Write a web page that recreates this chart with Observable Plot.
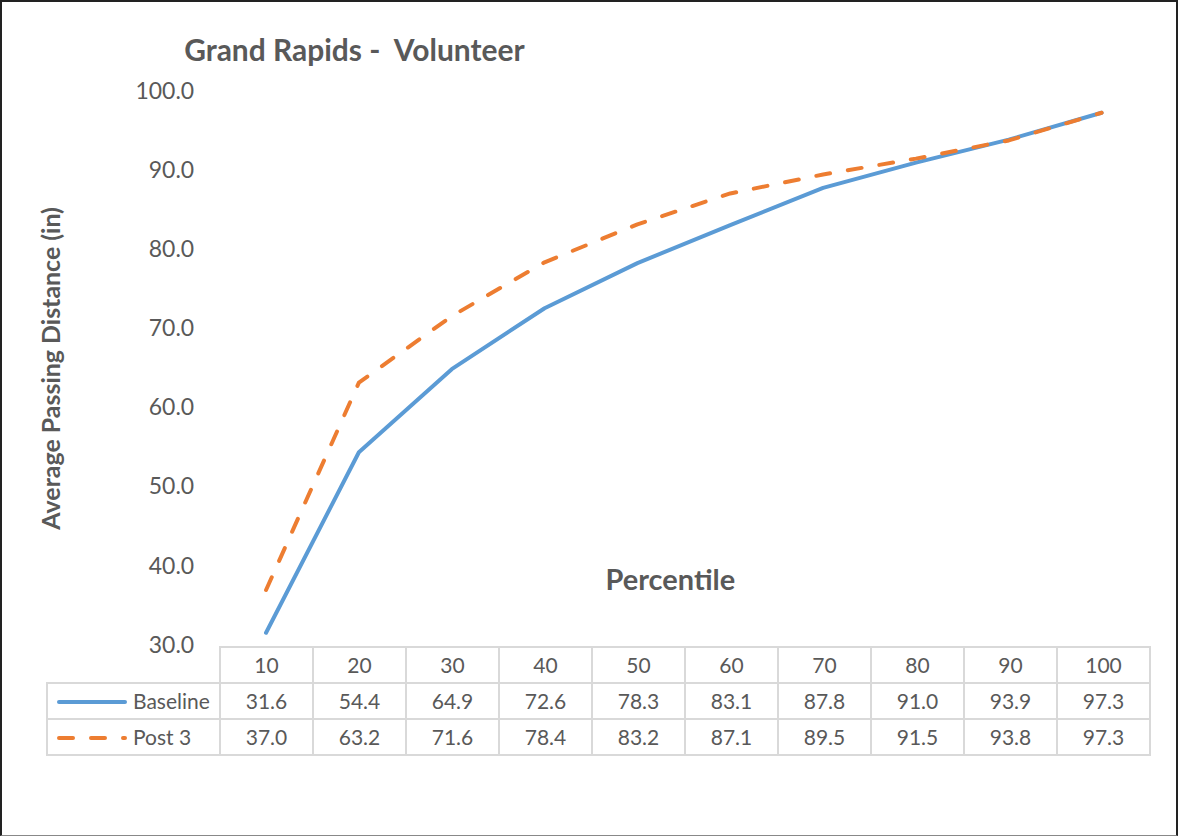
<!DOCTYPE html>
<html><head><meta charset="utf-8">
<script src="https://cdn.jsdelivr.net/npm/d3@7"></script>
<script src="https://cdn.jsdelivr.net/npm/@observablehq/plot@0.6"></script>
<style>
html,body{margin:0;padding:0;background:#fff;}
#wrap{position:relative;width:1178px;height:836px;box-sizing:border-box;border-top:2px solid #222;border-left:2px solid #222;border-right:2px solid #222;border-bottom:1px solid #888;font-family:Lato,sans-serif;color:#595959;overflow:hidden;background:#fff}
#chart{position:absolute;left:-2px;top:-2px}
#tbl{position:absolute;left:44px;top:644px;border-collapse:collapse;table-layout:fixed;width:1104px;font-family:Lato,sans-serif;font-size:21px;color:#595959}
#tbl td{border:2px solid #d9d9d9;height:34px;padding:0;text-align:center;vertical-align:middle;white-space:nowrap;line-height:34px}
#tbl td.blank{border-top:none;border-left:none}
#tbl td.leg{text-align:left;position:relative}
#tbl td.leg svg{position:absolute;left:8px;top:14px}
#tbl td.leg span{position:absolute;left:85px;top:0}
</style>
</head><body>
<div id="wrap"><div id="chart"></div><table id="tbl"></table></div>
<script>
const percentiles = [10, 20, 30, 40, 50, 60, 70, 80, 90, 100];
const baseline = [31.6, 54.4, 64.9, 72.6, 78.3, 83.1, 87.8, 91.0, 93.9, 97.3];
const post3 = [37.0, 63.2, 71.6, 78.4, 83.2, 87.1, 89.5, 91.5, 93.8, 97.3];
const seriesNames = ["Baseline", "Post 3"];
const seriesColors = ["#5B9BD5", "#ED7D31"];
const seriesDash = [null, "14,18"];
const yTicks = [30, 40, 50, 60, 70, 80, 90, 100];
const titleText = "Grand Rapids -  Volunteer";
const xTitle = "Percentile";
const yTitle = "Average Passing Distance (in)";

const seriesValues = [baseline, post3];
const rows = seriesNames.flatMap((s, i) => percentiles.map((p, j) => ({series: s, p, v: seriesValues[i][j]})));
const fmt = d => d.toFixed(1);

const lineMarks = seriesNames.map((s, i) =>
  Plot.lineY(rows.filter(r => r.series === s), {
    x: "p", y: "v", stroke: seriesColors[i], strokeWidth: 4,
    strokeLinecap: "round", strokeLinejoin: "round",
    strokeDasharray: seriesDash[i] || undefined
  })
);

const chart = Plot.plot({
  width: 1178, height: 836,
  marginLeft: 219, marginRight: 29, marginTop: 91, marginBottom: 190,
  style: {fontFamily: "Lato, sans-serif", color: "#595959", background: "transparent", overflow: "visible"},
  x: {type: "point", domain: percentiles, padding: 0.5, axis: null},
  y: {domain: [30, 100], axis: null},
  marks: [
    Plot.axisY({ticks: yTicks, tickFormat: fmt, tickSize: 0, tickPadding: 25, fontSize: 23, label: null, fill: "#595959"}),
    ...lineMarks,
    Plot.text([titleText], {frameAnchor: "top-left", dx: -35, dy: -52, textAnchor: "start", fontWeight: "bold", fontSize: 30, fill: "#595959"}),
    Plot.text([xTitle], {frameAnchor: "bottom", dx: -13, dy: -55, fontWeight: "bold", fontSize: 29, fill: "#595959"}),
    Plot.text([yTitle], {frameAnchor: "left", dx: -167, rotate: -90, textAnchor: "middle", fontWeight: "bold", fontSize: 25, fill: "#595959"})
  ]
});
document.getElementById("chart").appendChild(chart);

// data table
const tbl = document.getElementById("tbl");
const colg = document.createElement("colgroup");
colg.innerHTML = `<col style="width:173px">` + percentiles.map(() => `<col style="width:93px">`).join("");
tbl.appendChild(colg);
const head = document.createElement("tr");
head.innerHTML = `<td class="blank"></td>` + percentiles.map(p => `<td>${p}</td>`).join("");
tbl.appendChild(head);
seriesNames.forEach((s, i) => {
  const tr = document.createElement("tr");
  const dash = seriesDash[i] ? `stroke-dasharray="${seriesDash[i]}"` : "";
  tr.innerHTML = `<td class="leg"><svg width="72" height="8"><line x1="3" y1="4" x2="69" y2="4" stroke="${seriesColors[i]}" stroke-width="4" stroke-linecap="round" ${dash}/></svg><span>${s}</span></td>` +
    seriesValues[i].map(v => `<td>${fmt(v)}</td>`).join("");
  tbl.appendChild(tr);
});
</script>
</body></html>
